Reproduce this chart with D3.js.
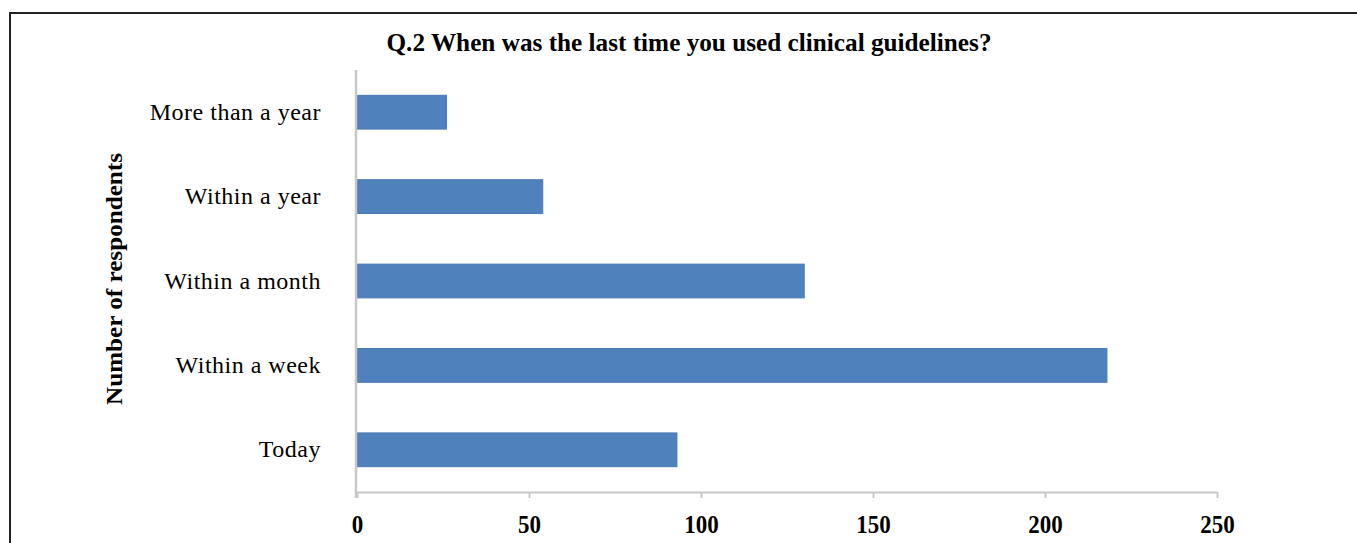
<!DOCTYPE html>
<html><head><meta charset="utf-8">
<script src="https://cdn.jsdelivr.net/npm/d3@7"></script>
<style>
html,body{margin:0;padding:0;background:#fff;overflow:hidden;}
text{font-family:"Liberation Serif","Times New Roman",serif;fill:#000;}
</style></head>
<body>
<script>
const categories = ["More than a year", "Within a year", "Within a month", "Within a week", "Today"];
const values = [26, 54, 130, 218, 93];
const xTicks = [0, 50, 100, 150, 200, 250];
const titleText = "Q.2 When was the last time you used clinical guidelines?";
const yTitleText = "Number of respondents";

const W = 1357, H = 543;
const svg = d3.select("body").append("svg").attr("width", W).attr("height", H);

// frame (partially cut off)
svg.append("line").attr("x1", 10).attr("x2", W).attr("y1", 13).attr("y2", 13)
  .attr("stroke", "#222").attr("stroke-width", 2);
svg.append("line").attr("x1", 10).attr("x2", 10).attr("y1", 12).attr("y2", H)
  .attr("stroke", "#222").attr("stroke-width", 2);

const x = d3.scaleLinear().domain([0, 250]).range([357, 1217]);
const y = d3.scaleBand().domain(categories).range([70, 492]).paddingInner(0.6).paddingOuter(0.3);

// bars
svg.selectAll("rect.bar").data(categories).enter().append("rect")
  .attr("class", "bar")
  .attr("x", x(0))
  .attr("y", d => y(d))
  .attr("width", (d, i) => x(values[i]) - x(0))
  .attr("height", y.bandwidth())
  .attr("fill", "#4f81bd")
  .attr("stroke", "#4a78b2").attr("stroke-width", 1);

// x axis
const xAxis = d3.axisBottom(x).tickValues(xTicks).tickSize(6).tickSizeOuter(0).tickFormat(d3.format("d"));
const gx = svg.append("g").attr("transform", "translate(0,492)").call(xAxis);
gx.select(".domain").attr("stroke", "#c8c8c8").attr("stroke-width", 2);
gx.selectAll(".tick line").attr("stroke", "#c8c8c8").attr("stroke-width", 2);
gx.selectAll(".tick text").attr("dy", 0).attr("y", 41)
  .style("font-family", "'Liberation Serif', serif").style("font-size", "25px").style("font-weight", "bold")
  .attr("fill", "#000")
  .attr("textLength", d => String(d).length * 11.5).attr("lengthAdjust", "spacingAndGlyphs");

// y axis
const yAxis = d3.axisLeft(y).tickSize(0).tickPadding(35);
const gy = svg.append("g").attr("transform", "translate(356,0)").call(yAxis);
gy.select(".domain").attr("stroke", "#c8c8c8").attr("stroke-width", 2.5)
  .attr("d", "M0,70V498");
gy.selectAll(".tick text")
  .style("font-family", "'Liberation Serif', serif").style("font-size", "24px")
  .style("letter-spacing", "0.5px")
  .attr("fill", "#000");

// title
svg.append("text").attr("x", 689).attr("y", 51).attr("text-anchor", "middle")
  .style("font-size", "26px").style("font-weight", "bold")
  .attr("textLength", 605).attr("lengthAdjust", "spacingAndGlyphs")
  .text(titleText);

// y title
svg.append("text").attr("transform", "translate(122,279) rotate(-90)").attr("text-anchor", "middle")
  .style("font-size", "24px").style("font-weight", "bold")
  .attr("textLength", 252).attr("lengthAdjust", "spacingAndGlyphs")
  .text(yTitleText);
</script>
</body></html>
